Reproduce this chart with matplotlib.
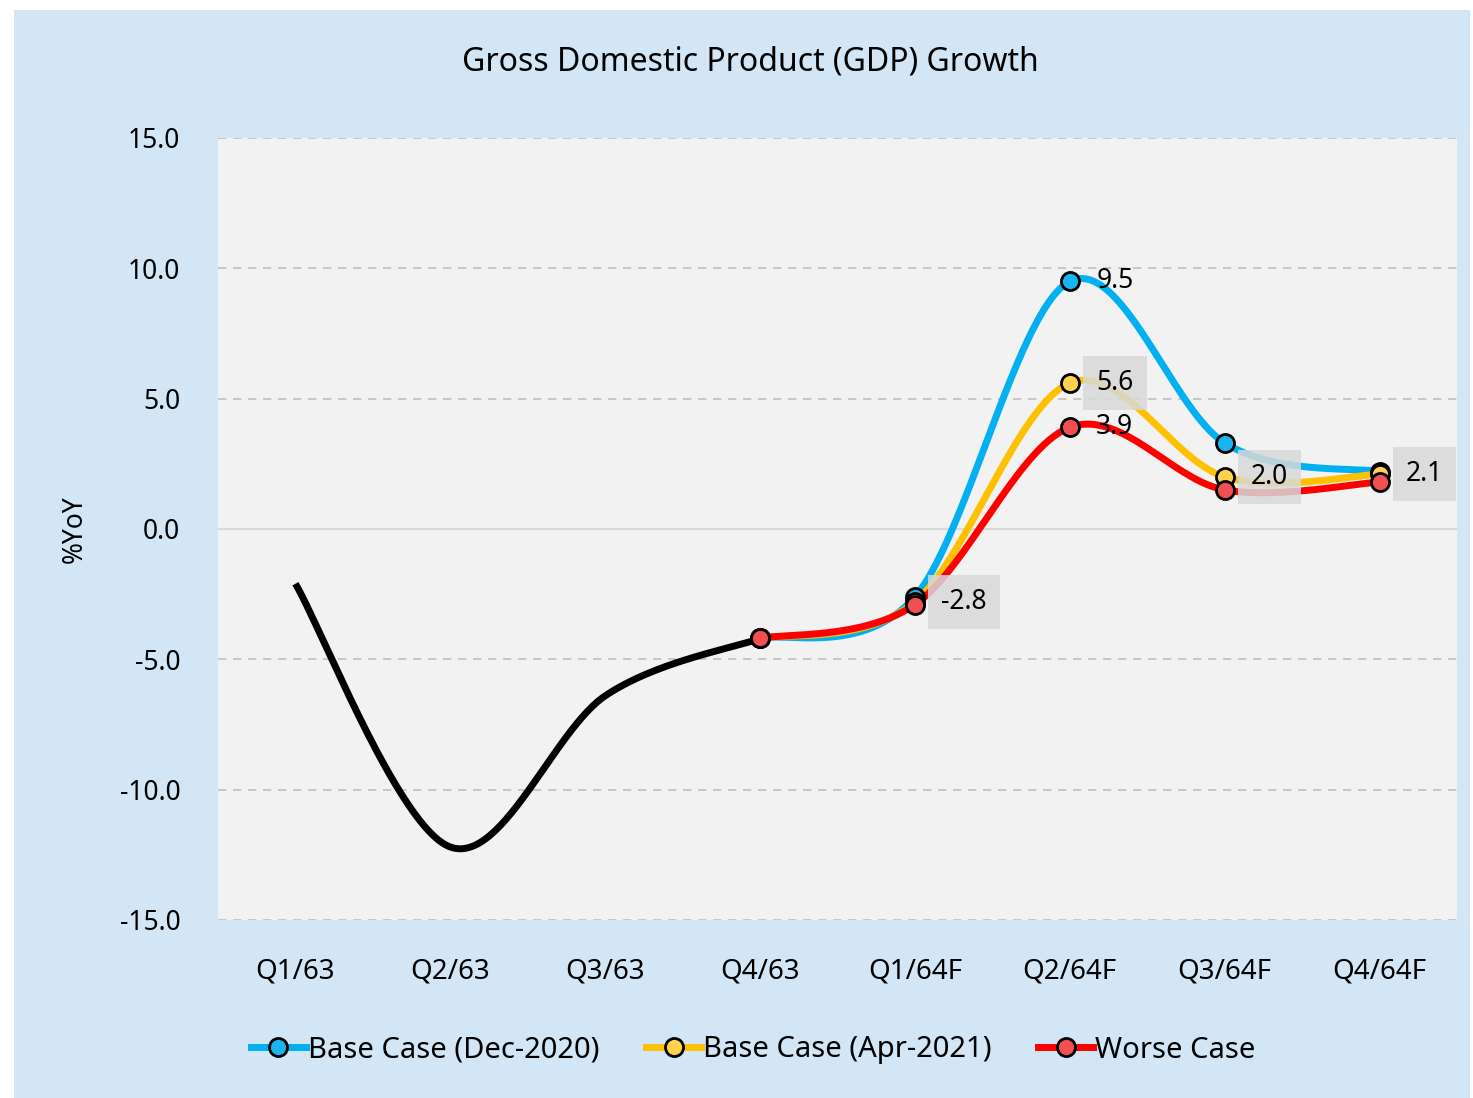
import numpy as np
import matplotlib
matplotlib.use("Agg")
import matplotlib.pyplot as plt
from matplotlib.patches import Rectangle
from matplotlib.lines import Line2D

plt.rcParams['font.family'] = ['Noto Sans', 'DejaVu Sans']

categories = ["Q1/63", "Q2/63", "Q3/63", "Q4/63", "Q1/64F", "Q2/64F", "Q3/64F", "Q4/64F"]
actual = [-2.1, -12.2, -6.4, -4.2]
base_dec2020 = [-4.2, -2.6, 9.5, 3.3, 2.2]
base_apr2021 = [-4.2, -2.8, 5.6, 2.0, 2.1]
worse_case = [-4.2, -2.9, 3.9, 1.5, 1.8]
yticks = [-15.0, -10.0, -5.0, 0.0, 5.0, 10.0, 15.0]

BLUE = "#00B0F0"
YELLOW = "#FFC000"
RED = "#FF0000"


def smooth(xs, ys, n=60):
    """Excel-like smoothed line (cardinal Bezier, tension 1/6)."""
    xs = np.asarray(xs, float)
    ys = np.asarray(ys, float)
    P = np.column_stack([xs, ys])
    out = []
    m = len(P)
    for i in range(m - 1):
        p0 = P[i - 1] if i > 0 else P[i]
        p1 = P[i]
        p2 = P[i + 1]
        p3 = P[i + 2] if i + 2 < m else P[i + 1]
        c1 = p1 + (p2 - p0) / 6.0
        c2 = p2 - (p3 - p1) / 6.0
        t = np.linspace(0, 1, n)[:, None]
        seg = ((1 - t) ** 3) * p1 + 3 * ((1 - t) ** 2) * t * c1 + 3 * (1 - t) * t ** 2 * c2 + t ** 3 * p2
        if i > 0:
            seg = seg[1:]
        out.append(seg)
    out = np.vstack(out)
    return out[:, 0], out[:, 1]


W, H = 1473, 1098
fig = plt.figure(figsize=(W / 100, H / 100), dpi=100)
fig.patch.set_facecolor("white")
bg = Rectangle((14 / W, 0), (1470 - 14) / W, 1 - 10 / H,
               transform=fig.transFigure, facecolor="#D2E6F5",
               edgecolor="none", zorder=-10)
fig.patches.append(bg)

ax = fig.add_axes([218 / W, 1 - 920 / H, (1457 - 218) / W, (920 - 138) / H])
ax.set_zorder(5)
ax.set_facecolor("#F2F2F2")
ax.set_xlim(-0.5, 7.5)
ax.set_ylim(-15, 15)
ax.set_yticks(yticks)
ax.set_yticklabels([f"{v:.1f}" for v in yticks])
x_all = np.arange(len(categories))
ax.set_xticks(x_all)
ax.set_xticklabels(categories)
ax.tick_params(axis="both", length=0, labelsize=19)
ax.tick_params(axis="x", labelsize=20, pad=27)
ax.tick_params(axis="y", pad=27)
for s in ax.spines.values():
    s.set_visible(False)
for v in yticks:
    if v == 0:
        ax.axhline(v, color="#D9D9D9", lw=1.5, zorder=1)
    else:
        ax.axhline(v, color="#BFBFBF", lw=1.2, ls=(0, (5, 4)), zorder=1)

ax.set_ylabel("%YoY", fontsize=19, labelpad=22)

# actual line
xa = x_all[:4]
sx, sy = smooth(xa, actual)
ax.plot(sx, sy, color="black", lw=5, solid_capstyle="butt", zorder=3)

xf = x_all[3:]
series = [
    (base_dec2020, BLUE, "#1AB5F0", "Base Case (Dec-2020)"),
    (base_apr2021, YELLOW, "#FFD24D", "Base Case (Apr-2021)"),
    (worse_case, RED, "#F25050", "Worse Case"),
]
handles = []
for i, (vals, col, face, lab) in enumerate(series):
    sx, sy = smooth(xf, vals)
    ax.plot(sx, sy, color=col, lw=5, zorder=4 + i, solid_capstyle="butt")
    ax.plot(xf, vals, ls="none", marker="o", ms=13, mfc=face, mec="black",
            mew=2, zorder=7 + i)
    handles.append(Line2D([0], [0], color=col, lw=5, marker="o", ms=13,
                          mfc=face, mec="black", mew=2, label=lab))

# data labels
def label(x, y, txt, box):
    kw = dict(fontsize=19, va="center", ha="left", zorder=12)
    if box:
        kw["bbox"] = dict(boxstyle="square,pad=0.5", fc="#D9D9D9", ec="none", alpha=0.85)
    ax.text(x + 0.17, y, txt, **kw)

label(5, base_dec2020[2], f"{base_dec2020[2]:.1f}", False)
label(5, base_apr2021[2], f"{base_apr2021[2]:.1f}", True)
label(5, worse_case[2], f"{worse_case[2]:.1f}", False)
label(4, base_apr2021[1], f"{base_apr2021[1]:.1f}", True)
label(6, base_apr2021[3], f"{base_apr2021[3]:.1f}", True)
label(7, base_apr2021[4], f"{base_apr2021[4]:.1f}", True)

fig.text(750 / W, 1 - 62 / H, "Gross Domestic Product (GDP) Growth",
         ha="center", va="center", fontsize=23)

fig.legend(handles=handles, loc="center", bbox_to_anchor=(753 / W, 1 - 1050 / H),
           ncol=3, frameon=False, fontsize=21, handlelength=1.9,
           handletextpad=0.05, columnspacing=1.6)

fig.savefig("out.png", dpi=100, facecolor=fig.get_facecolor())
